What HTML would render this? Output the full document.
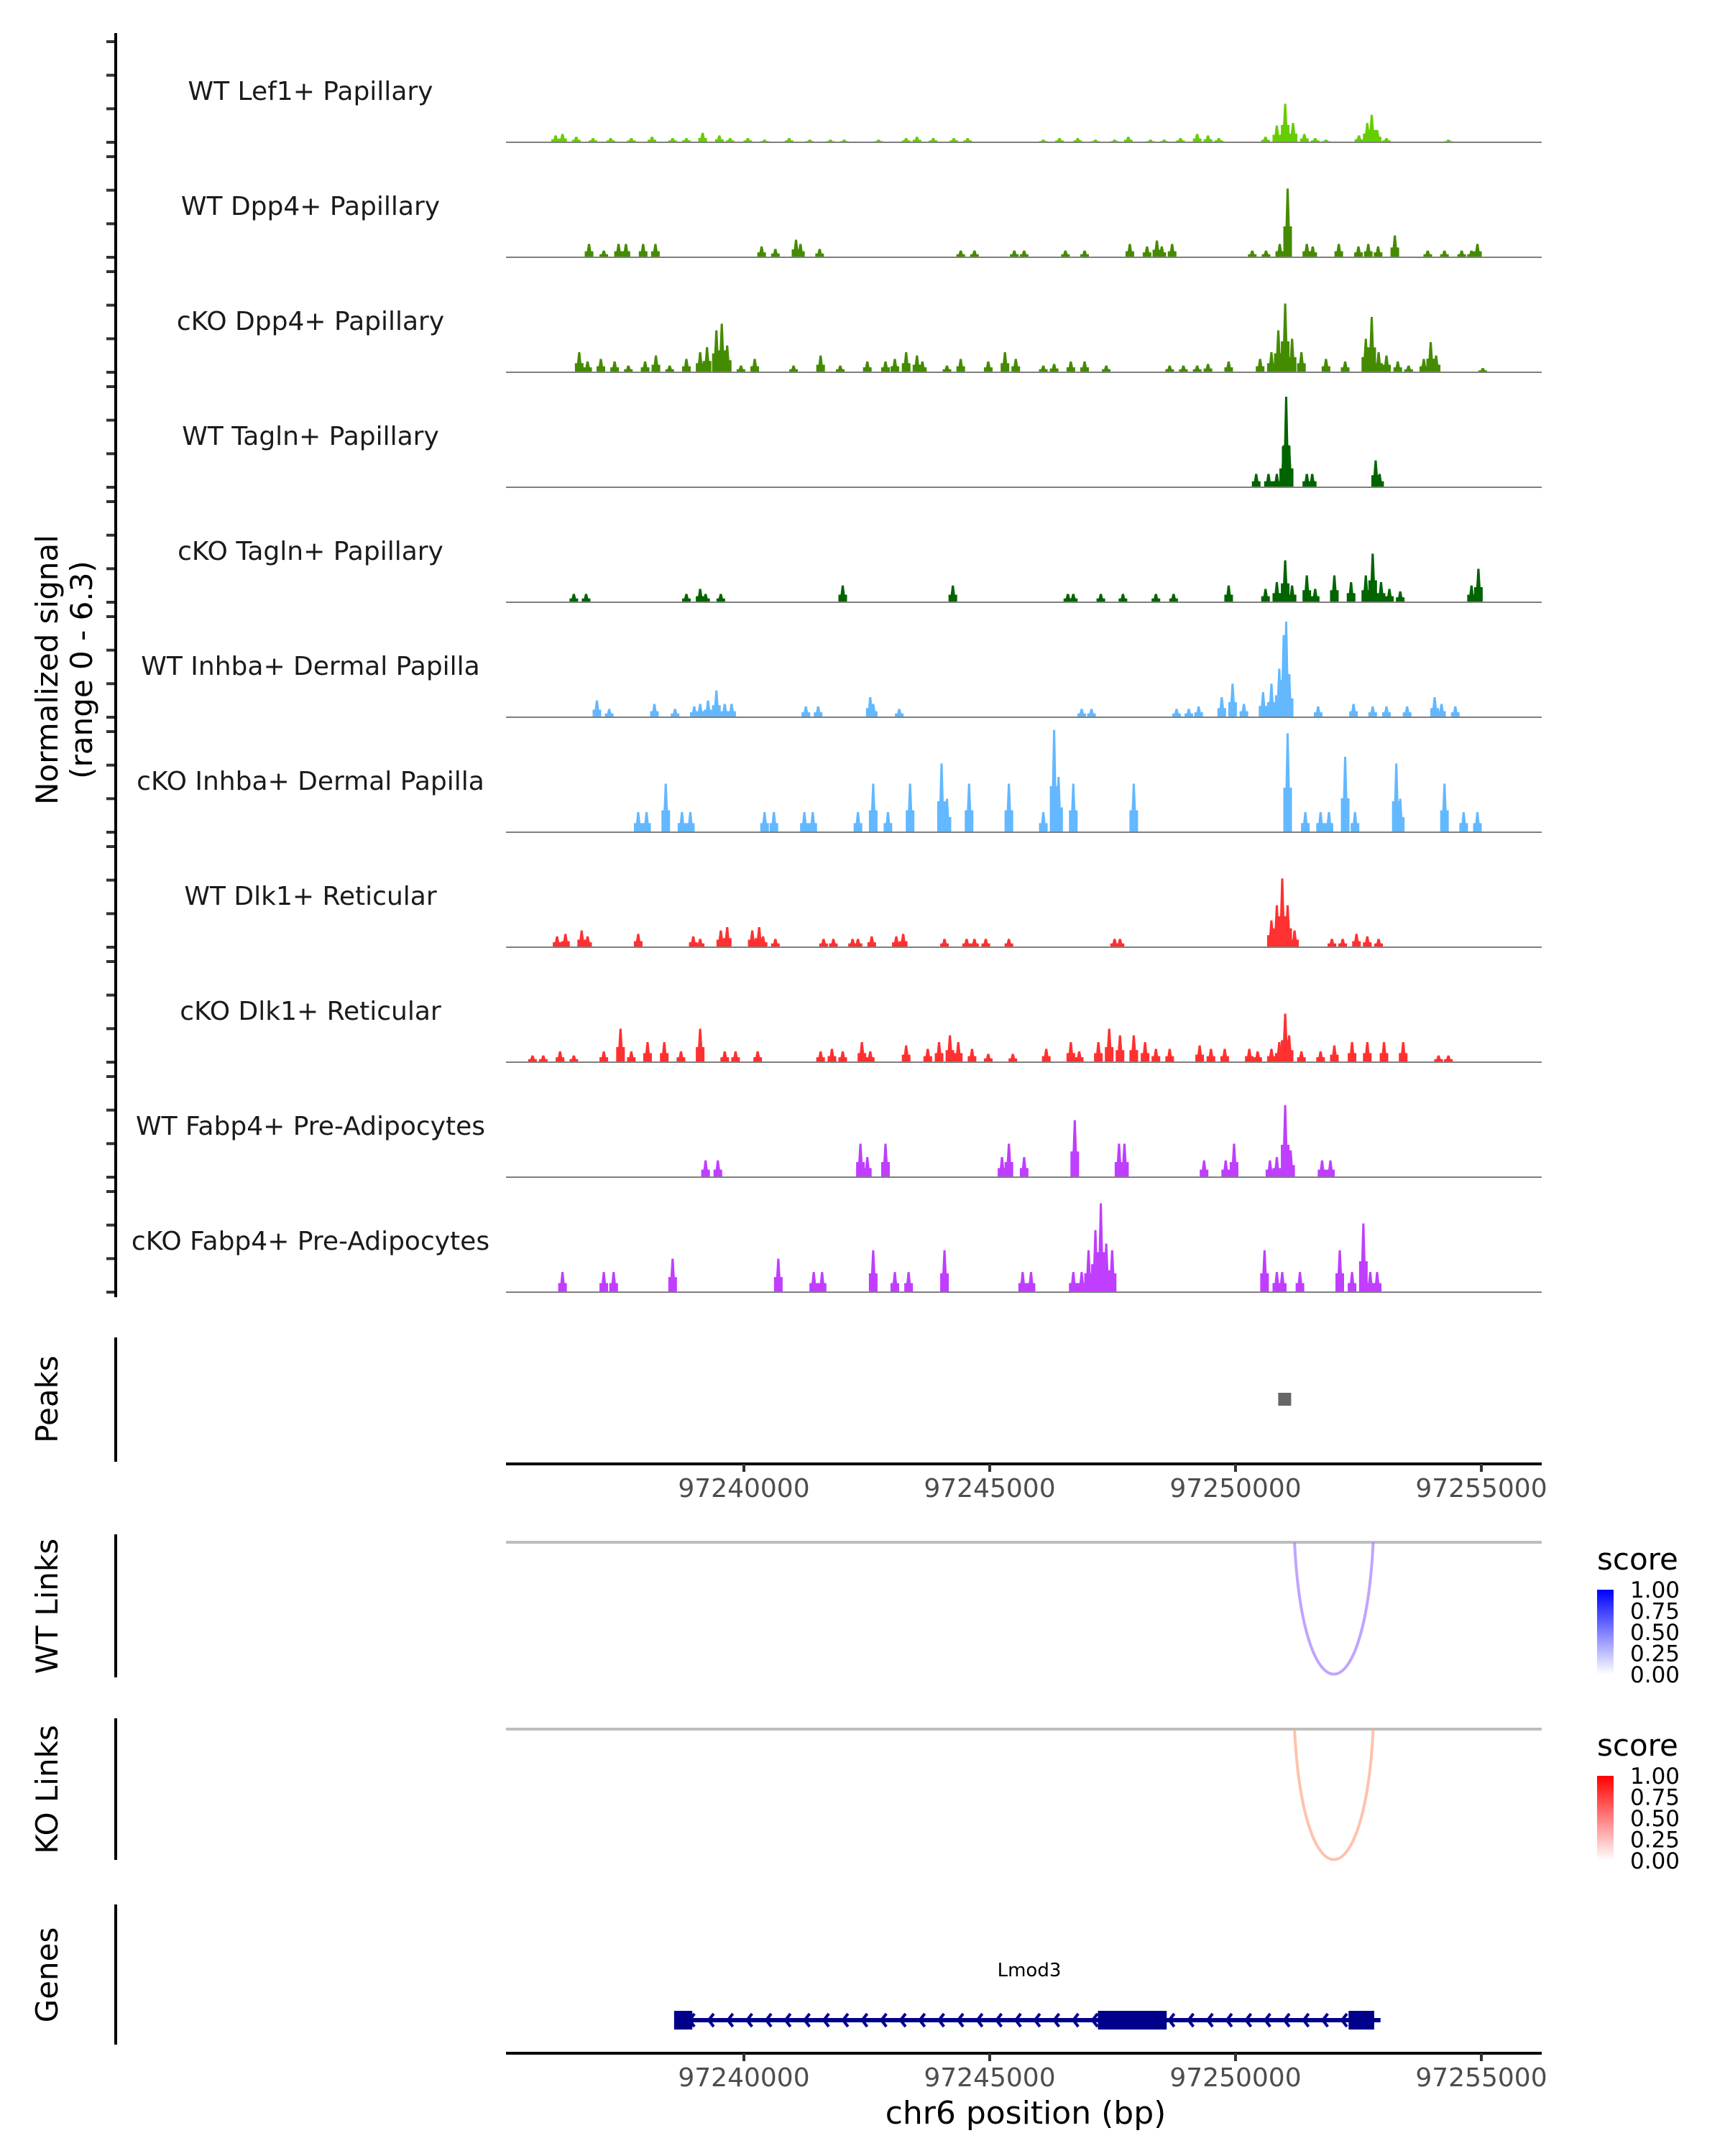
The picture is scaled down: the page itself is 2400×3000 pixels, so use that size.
<!DOCTYPE html>
<html><head><meta charset="utf-8">
<style>
html,body{margin:0;padding:0;background:#fff;}
svg{display:block;font-family:"DejaVu Sans","Liberation Sans",sans-serif;}
</style></head>
<body>
<svg id="chart" width="2400" height="3000" viewBox="0 0 2400 3000" xmlns="http://www.w3.org/2000/svg">
<g id="tracks"></g>
<g id="axes"></g>
</svg>
<script>
// positions: kb relative to chr6:97,240,000 ; values: normalized signal (0 - 6.3)
const trackNames = ["WT Lef1+ Papillary","WT Dpp4+ Papillary","cKO Dpp4+ Papillary","WT Tagln+ Papillary","cKO Tagln+ Papillary","WT Inhba+ Dermal Papilla","cKO Inhba+ Dermal Papilla","WT Dlk1+ Reticular","cKO Dlk1+ Reticular","WT Fabp4+ Pre-Adipocytes","cKO Fabp4+ Pre-Adipocytes"];
const trackColors = ["#66CD00","#458B00","#458B00","#006400","#006400","#63B8FF","#63B8FF","#FF3030","#FF3030","#BF3EFF","#BF3EFF"];
const t1 = [[-3.83,0.41],[-3.69,0.5],[-3.41,0.33],[-3.07,0.25],[-2.71,0.25],[-2.29,0.25],[-1.87,0.33],[-1.45,0.25],[-1.17,0.25],[-0.84,0.57],[-0.5,0.41],[-0.28,0.25],[0.08,0.25],[0.42,0.16],[0.92,0.25],[1.34,0.16],[1.76,0.16],[2.04,0.16],[2.74,0.16],[3.3,0.25],[3.52,0.33],[3.85,0.25],[4.27,0.25],[4.55,0.25],[6.09,0.16],[6.42,0.25],[6.79,0.25],[7.15,0.16],[7.54,0.16],[7.82,0.33],[8.27,0.16],[8.55,0.16],[8.88,0.25],[9.22,0.5],[9.44,0.41],[9.66,0.25],[10.61,0.33],[10.84,1.0],[11.01,2.3],[11.17,1.15],[11.4,0.5],[11.62,0.25],[11.84,0.16],[12.51,0.41],[12.68,1.15],[12.77,1.64],[12.88,0.74],[13.07,0.25],[14.33,0.16]];
const t2 = [[-3.15,0.8],[-2.85,0.4],[-2.55,0.8],[-2.4,0.8],[-2.05,0.8],[-1.8,0.8],[0.36,0.65],[0.64,0.5],[1.06,1.05],[1.15,0.8],[1.54,0.5],[4.41,0.4],[4.69,0.4],[5.5,0.4],[5.7,0.4],[6.54,0.4],[6.93,0.4],[7.85,0.8],[8.2,0.65],[8.4,1.0],[8.5,0.65],[8.71,0.8],[10.34,0.4],[10.62,0.4],[10.9,0.8],[11.06,4.1],[11.45,0.8],[11.57,0.65],[12.1,0.8],[12.5,0.65],[12.7,0.8],[12.9,0.65],[13.24,1.3],[13.91,0.4],[14.25,0.4],[14.6,0.4],[14.8,0.4],[14.92,0.8]];
const t3 = [[-3.35,1.2],[-3.18,0.65],[-2.91,0.8],[-2.63,0.65],[-2.35,0.4],[-2.01,0.65],[-1.79,1.0],[-1.51,0.4],[-1.17,0.8],[-0.89,1.2],[-0.75,1.5],[-0.56,2.5],[-0.45,2.9],[-0.34,1.6],[-0.06,0.4],[0.22,0.8],[1.01,0.4],[1.56,1.0],[1.96,0.4],[2.51,0.65],[2.88,0.65],[3.07,0.8],[3.3,1.2],[3.52,1.0],[3.63,0.65],[4.13,0.4],[4.41,0.8],[4.97,0.65],[5.31,1.2],[5.53,0.8],[6.09,0.4],[6.31,0.5],[6.65,0.65],[6.93,0.65],[7.37,0.4],[8.66,0.4],[8.94,0.4],[9.22,0.4],[9.44,0.5],[9.86,0.65],[10.5,0.8],[10.73,1.2],[10.87,2.5],[11.01,4.1],[11.15,2.0],[11.34,1.2],[11.84,0.8],[12.23,0.65],[12.65,2.0],[12.77,3.3],[12.91,1.2],[13.07,1.0],[13.3,0.65],[13.52,0.4],[13.83,0.8],[13.97,1.8],[14.08,1.0],[15.03,0.25]];
const t4 = [[10.42,0.8],[10.67,0.8],[10.84,0.8],[10.98,2.5],[11.03,5.4],[11.09,2.5],[11.45,0.8],[11.56,0.8],[12.85,1.6],[12.93,0.8]];
const t5 = [[-3.46,0.5],[-3.21,0.5],[-1.17,0.5],[-0.89,0.8],[-0.78,0.5],[-0.47,0.5],[2.01,1.0],[4.25,1.0],[6.59,0.5],[6.7,0.5],[7.26,0.5],[7.71,0.5],[8.38,0.5],[8.74,0.5],[9.86,1.0],[10.61,0.8],[10.84,1.2],[11.01,2.5],[11.15,1.0],[11.45,1.6],[11.62,0.8],[12.01,1.6],[12.35,1.2],[12.65,1.6],[12.79,2.9],[12.96,1.2],[13.13,0.8],[13.35,0.65],[14.8,1.0],[14.94,2.0]];
const t6 = [[-2.99,1.0],[-2.74,0.5],[-1.82,0.8],[-1.4,0.5],[-1.01,0.65],[-0.89,0.8],[-0.73,1.0],[-0.56,1.6],[-0.39,0.8],[-0.25,0.8],[1.26,0.65],[1.51,0.65],[2.57,1.2],[2.63,0.8],[3.16,0.5],[6.87,0.5],[7.07,0.5],[8.8,0.5],[9.05,0.5],[9.25,0.65],[9.72,1.2],[9.94,2.0],[10.17,0.8],[10.56,1.5],[10.73,2.0],[10.89,2.9],[10.98,4.9],[11.03,5.7],[11.09,2.5],[11.68,0.65],[12.4,0.8],[12.79,0.65],[13.07,0.65],[13.49,0.65],[14.05,1.2],[14.19,0.8],[14.47,0.65]];
const t7 = [[-2.15,1.2],[-1.98,1.2],[-1.59,2.9],[-1.26,1.2],[-1.09,1.2],[0.42,1.2],[0.61,1.2],[1.23,1.2],[1.4,1.2],[2.32,1.2],[2.63,2.9],[2.93,1.2],[3.38,2.9],[4.02,4.1],[4.13,2.0],[4.58,2.9],[5.39,2.9],[6.09,1.2],[6.31,6.1],[6.4,3.3],[6.7,2.9],[7.93,2.9],[11.06,5.9],[11.42,1.2],[11.73,1.2],[11.9,1.2],[12.23,4.5],[12.43,1.2],[13.27,4.1],[13.35,2.0],[14.25,2.9],[14.64,1.2],[14.92,1.2]];
const t8 = [[-3.8,0.65],[-3.63,0.8],[-3.3,1.0],[-3.18,0.65],[-2.15,0.8],[-1.03,0.65],[-0.89,0.5],[-0.47,1.0],[-0.34,1.2],[0.17,1.0],[0.31,1.2],[0.39,0.65],[0.64,0.5],[1.62,0.5],[1.82,0.5],[2.21,0.5],[2.32,0.5],[2.6,0.65],[3.1,0.65],[3.24,0.8],[4.08,0.5],[4.53,0.5],[4.69,0.5],[4.92,0.5],[5.39,0.5],[7.54,0.5],[7.65,0.5],[10.73,1.6],[10.84,2.5],[10.95,4.1],[11.06,2.5],[11.2,1.0],[11.96,0.5],[12.18,0.5],[12.46,0.8],[12.68,0.65],[12.91,0.5]];
const t9 = [[-4.3,0.4],[-4.08,0.4],[-3.74,0.65],[-3.46,0.4],[-2.85,0.65],[-2.51,2.0],[-2.29,0.65],[-1.96,1.2],[-1.62,1.2],[-1.28,0.65],[-0.89,2.0],[-0.39,0.65],[-0.17,0.65],[0.28,0.65],[1.56,0.65],[1.79,0.8],[2.01,0.65],[2.4,1.2],[2.57,0.65],[3.3,1.0],[3.74,0.8],[3.97,1.2],[4.19,1.6],[4.36,1.2],[4.64,0.8],[4.97,0.5],[5.47,0.5],[6.15,0.8],[6.65,1.2],[6.82,0.65],[7.21,1.2],[7.43,2.0],[7.65,1.6],[7.93,1.6],[8.16,1.2],[8.38,0.8],[8.66,0.8],[9.27,1.0],[9.5,0.8],[9.78,0.8],[10.28,0.8],[10.45,0.65],[10.73,0.8],[10.89,1.2],[11.01,2.9],[11.09,1.6],[11.34,0.65],[11.73,0.65],[12.01,1.0],[12.37,1.2],[12.68,1.2],[13.02,1.2],[13.41,1.2],[14.13,0.4],[14.33,0.4]];
const t10 = [[-0.78,1.0],[-0.53,1.0],[2.37,2.0],[2.51,1.2],[2.88,2.0],[5.25,1.2],[5.39,2.0],[5.7,1.2],[6.73,3.4],[7.63,2.0],[7.74,2.0],[9.36,1.0],[9.8,1.0],[9.97,2.0],[10.7,1.0],[10.84,1.2],[11.01,4.3],[11.12,1.6],[11.76,1.0],[11.93,1.0]];
const t11 = [[-3.69,1.2],[-2.85,1.2],[-2.65,1.2],[-1.45,2.0],[0.7,2.0],[1.42,1.2],[1.59,1.2],[2.63,2.5],[3.07,1.2],[3.35,1.2],[4.08,2.5],[5.67,1.2],[5.84,1.2],[6.7,1.2],[6.87,1.2],[7.01,2.5],[7.15,3.7],[7.26,5.3],[7.37,2.9],[7.49,2.5],[10.59,2.5],[10.84,1.2],[10.95,1.2],[11.31,1.2],[12.12,2.5],[12.37,1.2],[12.6,4.1],[12.74,1.2],[12.88,1.2]];
const trackData = [t1,t2,t3,t4,t5,t6,t7,t8,t9,t10,t11];
const yTicks = [0,2,4,6];
const peakPos = [[11.0]];
const xTicks = [0,5,10,15];
const xTickLabels = ["97240000","97245000","97250000","97255000"];
const linkStart = [11.2];
const linkEnd = [12.8];
const linkScoreWT = [0.35];
const linkScoreKO = [0.35];
const geneName = "Lmod3";
const geneSpan = [-1.4, 12.95];
const exons = [[-1.42,-1.05],[7.2,8.6],[12.3,12.82]];
const legendTicks = ["1.00","0.75","0.50","0.25","0.00"];

const NS="http://www.w3.org/2000/svg";
const svg=document.getElementById('chart');
const gT=document.getElementById('tracks');
const gA=document.getElementById('axes');
const X0=1035, PXKB=68.4, LEFT=704, RIGHT=2145;
const xs = kb => X0 + kb*PXKB;
const base = i => 198 + 160*i;
const ys = (i,v) => base(i) - v/6.3*147;
function mk(tag, attrs, parent){const e=document.createElementNS(NS,tag);for(const k in attrs)e.setAttribute(k,attrs[k]);(parent||svg).appendChild(e);return e;}

trackData.forEach((arr,i)=>{
  const g=mk('g',{},gT);
  
  
  arr.forEach(([p,v])=>{
    const x=xs(p), b=base(i), t=ys(i,v), h=b-t;
    const pts=[[x-6,b],[x-6,b-h*0.45],[x-3,b-h*0.45],[x-1.5,t],[x+1.5,t],[x+3,b-h*0.45],[x+6,b-h*0.45],[x+6,b]].map(q=>q.join(',')).join(' ');
    const pg=mk('polygon',{points:pts,fill:trackColors[i]},g);
    
    
  });
  const bl=mk('line',{x1:LEFT,x2:RIGHT,y1:base(i),y2:base(i),stroke:'#7f7f7f','stroke-width':2},g);
  
  
  const lb=mk('text',{x:432,y:base(i)-59,'font-size':36,'text-anchor':'middle',fill:'#1a1a1a'},g);
  lb.textContent=trackNames[i];
  
  
  yTicks.forEach(tv=>{
    const tk=mk('line',{x1:148,x2:160,y1:ys(i,tv),y2:ys(i,tv),stroke:'#333','stroke-width':4},gA);
    
    
  });
});
[[46,1805],[1861,2034],[2135,2334],[2391,2588],[2650,2845]].forEach(([a,b])=>{
  const l=mk('line',{x1:161,x2:161,y1:a,y2:b,stroke:'#000','stroke-width':4},gA);
  
  
});
function rotText(txt,x,y,size,name){
  const t=mk('text',{x:x,y:y,'font-size':size,'text-anchor':'middle',fill:'#000',transform:`rotate(-90 ${x} ${y})`},gA);
  t.textContent=txt;
  
  
}
rotText('Normalized signal',80,932,42,'y-axis-title');
rotText('(range 0 - 6.3)',128,932,42,'y-axis-subtitle');
rotText('Peaks',80,1947,42,'peaks-label');
rotText('WT Links',80,2235,42,'wt-links-label');
rotText('KO Links',80,2490,42,'ko-links-label');
rotText('Genes',80,2748,42,'genes-label');

peakPos.forEach(([p])=>{
  const r=mk('rect',{x:xs(p)-9,y:1938,width:18,height:18,fill:'#666'},gA);
  
  
});
function xAxis(y,name){
  const l=mk('line',{x1:LEFT,x2:RIGHT,y1:y,y2:y,stroke:'#000','stroke-width':4},gA);
  
  
  xTicks.forEach((t,k)=>{
    const tk=mk('line',{x1:xs(t),x2:xs(t),y1:y,y2:y+11,stroke:'#333','stroke-width':4},gA);
    
    
    const tl=mk('text',{x:xs(t),y:y+46,'font-size':36,'text-anchor':'middle',fill:'#4d4d4d'},gA);
    tl.textContent=xTickLabels[k];
    
    
  });
}
xAxis(2037,'peaks-x-axis');
xAxis(2857,'genes-x-axis');
const xt=mk('text',{x:1427,y:2955,'font-size':44,'text-anchor':'middle',fill:'#000'},gA);
xt.textContent='chr6 position (bp)';



function links(top,bottomDepth,scores,color,name){
  const l=mk('line',{x1:LEFT,x2:RIGHT,y1:top,y2:top,stroke:'#bebebe','stroke-width':4},gA);
  
  
  linkStart.forEach((s,k)=>{
    const a=xs(s), b=xs(linkEnd[k]);
    const p=mk('path',{d:`M${a},${top} C${a+12},${top+bottomDepth*1.33} ${b-12},${top+bottomDepth*1.33} ${b},${top}`,fill:'none',stroke:color,'stroke-width':4,opacity:0.35+scores[k]},gA);
    
    
  });
}
links(2146,184,linkScoreWT,'#a57dff','wt-link');
links(2406,182,linkScoreKO,'#ffa88c','ko-link');

function legend(ty,barTop,c1,id,name){
  const d=mk('defs',{},gA);
  const lg=mk('linearGradient',{id:id,x1:0,y1:0,x2:0,y2:1},d);
  mk('stop',{offset:'0','stop-color':c1},lg);
  mk('stop',{offset:'1','stop-color':'#ffffff'},lg);
  const t=mk('text',{x:2222,y:ty,'font-size':42,fill:'#000'},gA);
  t.textContent='score';
  
  
  const r=mk('rect',{x:2222,y:barTop,width:23,height:118,fill:`url(#${id})`},gA);
  
  
  legendTicks.forEach((lab,k)=>{
    const yy=barTop+k*29.5;
    const tl=mk('text',{x:2268,y:yy+11,'font-size':31,fill:'#000'},gA);
    tl.textContent=lab;
    
    
  });
}
legend(2184,2212,'#0000ff','gradB','wt-legend');
legend(2443,2471,'#ff0000','gradR','ko-legend');

const gy=2811;
const gl=mk('line',{x1:xs(geneSpan[0]),x2:xs(geneSpan[1]),y1:gy,y2:gy,stroke:'#00008B','stroke-width':6},gA);


for(let x=xs(geneSpan[0])+20; x<xs(geneSpan[1])-6; x+=26.7){
  const c=mk('polyline',{points:`${x+7},${gy-9} ${x},${gy} ${x+7},${gy+9}`,fill:'none',stroke:'#00008B','stroke-width':4},gA);
  
  
}
exons.forEach(([a,b])=>{
  const r=mk('rect',{x:xs(a),y:gy-13,width:xs(b)-xs(a),height:26,fill:'#00008B'},gA);
  
  
});
const gn=mk('text',{x:1432,y:2750,'font-size':26,'text-anchor':'middle',fill:'#000'},gA);
gn.textContent=geneName;


</script>
</body></html>
